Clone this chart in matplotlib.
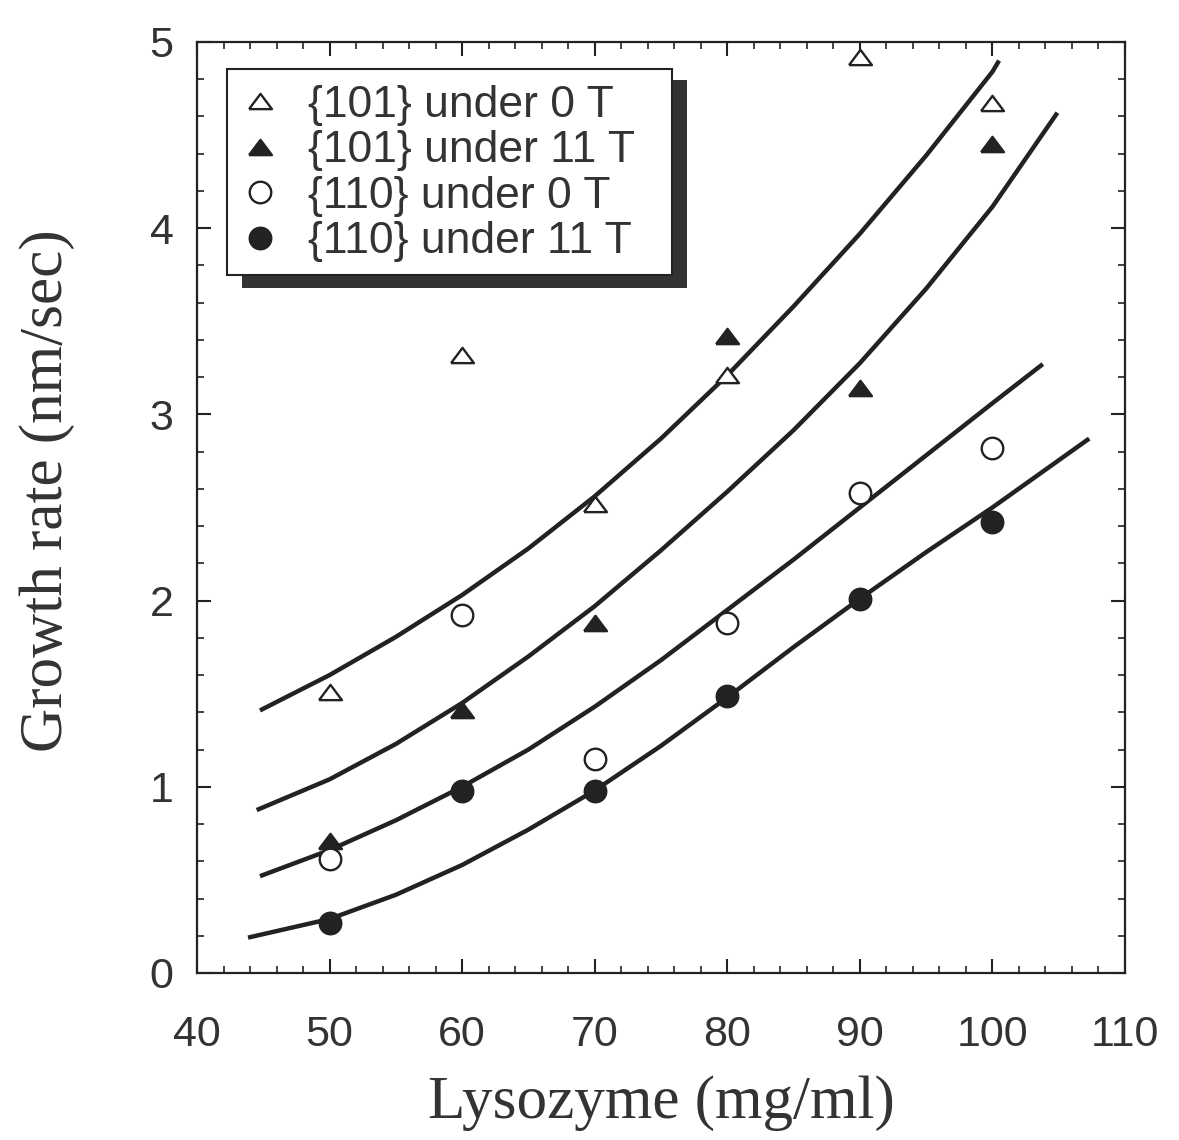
import matplotlib
matplotlib.use('Agg')
import matplotlib.pyplot as plt
from matplotlib.ticker import MultipleLocator
from matplotlib.patches import Rectangle

# measured points
conc = [50, 60, 70, 80, 90, 100]
rate_101_0T = [1.51, 3.32, 2.52, 3.21, 4.92, 4.67]
rate_101_11T = [0.71, 1.41, 1.88, 3.42, 3.14, 4.45]
rate_110_0T = [0.61, 1.92, 1.15, 1.88, 2.58, 2.82]
rate_110_11T = [0.27, 0.98, 0.98, 1.49, 2.01, 2.42]

# fitted curves
fit1_x = [44.75, 50, 55, 60, 65, 70, 75, 80, 85, 90, 95, 100, 100.5]
fit1_y = [1.41, 1.60, 1.805, 2.03, 2.28, 2.56, 2.87, 3.21, 3.58, 3.97, 4.39, 4.84, 4.90]
fit2_x = [44.5, 50, 55, 60, 65, 70, 75, 80, 85, 90, 95, 100, 104.9]
fit2_y = [0.875, 1.04, 1.23, 1.45, 1.70, 1.97, 2.27, 2.585, 2.915, 3.275, 3.675, 4.115, 4.62]
fit3_x = [44.75, 50, 55, 60, 65, 70, 75, 80, 85, 90, 95, 100, 103.8]
fit3_y = [0.52, 0.66, 0.82, 1.00, 1.20, 1.43, 1.68, 1.95, 2.22, 2.50, 2.78, 3.06, 3.27]
fit4_x = [43.85, 50, 55, 60, 65, 70, 75, 80, 85, 90, 95, 100, 107.3]
fit4_y = [0.19, 0.29, 0.42, 0.58, 0.77, 0.98, 1.22, 1.48, 1.75, 2.01, 2.26, 2.50, 2.87]

labels = ['{101} under 0 T', '{101} under 11 T', '{110} under 0 T', '{110} under 11 T']

ink = '#222222'
txt = '#333333'
flat_tri = [(-1.5, -1), (1.5, -1), (0, 1), (-1.5, -1)]

fig = plt.figure(figsize=(11.79, 11.40), dpi=100)
ax = fig.add_axes([0.1671, 0.1465, 0.9542 - 0.1671, 0.9632 - 0.1465])

for fx, fy in [(fit1_x, fit1_y), (fit2_x, fit2_y), (fit3_x, fit3_y), (fit4_x, fit4_y)]:
    ax.plot(fx, fy, color=ink, lw=3.2, solid_joinstyle='round', solid_capstyle='butt', zorder=2)

ms = 16.5
ax.plot(conc, rate_101_0T, ls='none', marker=flat_tri, ms=ms, mfc='white', mec=ink, mew=1.7,
        label=labels[0], zorder=3)
ax.plot(conc, rate_101_11T, ls='none', marker=flat_tri, ms=ms, mfc=ink, mec=ink, mew=1.7,
        label=labels[1], zorder=3)
ax.plot(conc, rate_110_0T, ls='none', marker='o', ms=15.5, mfc='white', mec=ink, mew=1.7,
        label=labels[2], zorder=3)
ax.plot(conc, rate_110_11T, ls='none', marker='o', ms=15.5, mfc=ink, mec=ink, mew=1.7,
        label=labels[3], zorder=3)

ax.set_xlim(40, 110)
ax.set_ylim(0, 5)
ax.xaxis.set_major_locator(MultipleLocator(10))
ax.xaxis.set_minor_locator(MultipleLocator(2))
ax.yaxis.set_major_locator(MultipleLocator(1))
ax.yaxis.set_minor_locator(MultipleLocator(0.2))
ax.tick_params(which='both', direction='in', top=True, right=True, colors=ink)
ax.tick_params(which='major', length=10, width=1.5)
ax.tick_params(which='minor', length=5, width=1.2)
ax.tick_params(axis='x', which='major', pad=30, labelsize=31, labelcolor=txt)
ax.tick_params(axis='y', which='major', pad=17, labelsize=31, labelcolor=txt)
for lab in ax.get_xticklabels() + ax.get_yticklabels():
    lab.set_family('Liberation Sans')
for sp in ax.spines.values():
    sp.set_linewidth(1.6)
    sp.set_color(ink)

ax.set_xlabel('Lysozyme (mg/ml)', family='Liberation Serif', fontsize=44, color=txt)
ax.set_ylabel('Growth rate (nm/sec)', family='Liberation Serif', fontsize=44, color=txt)
ax.xaxis.set_label_coords(0.5, -0.11)
ax.yaxis.set_label_coords(-0.132, 0.518)

# legend frame with a hard drop shadow, drawn in axes fractions
ax.add_patch(Rectangle((0.0485, 0.7358), 0.4795, 0.2234, transform=ax.transAxes,
                       facecolor='#333333', edgecolor='none', zorder=5, clip_on=False))
ax.add_patch(Rectangle((0.0323, 0.7497), 0.4796, 0.2213, transform=ax.transAxes,
                       facecolor='white', edgecolor=ink, lw=1.5, zorder=5.5, clip_on=False))

leg = ax.legend(loc='upper left', bbox_to_anchor=(0.044, 0.954), borderaxespad=0,
                prop={'family': 'Liberation Sans', 'size': 32}, labelcolor=txt,
                frameon=False, handlelength=1.0, handletextpad=0.58, borderpad=0,
                labelspacing=0.1, markerscale=1.0)
leg.set_zorder(6)

fig.savefig('out.png', dpi=100, facecolor='white')
